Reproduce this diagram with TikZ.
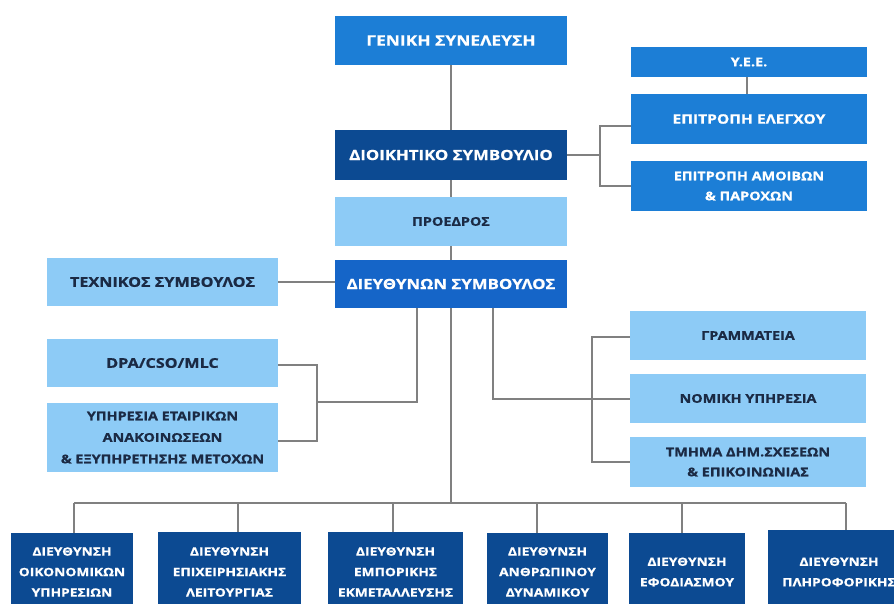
\documentclass[tikz,border=0pt]{standalone}
\usepackage{fontspec}
\setmainfont{Open Sans}[BoldFont={Open Sans Bold}]
\newfontfamily\wfont{Open Sans Bold}[FakeStretch=1.2, FakeBold=0.8]
\definecolor{midblue}{HTML}{1C7ED6}
\definecolor{dirblue}{HTML}{1565C8}
\definecolor{navy}{HTML}{0C4A92}
\definecolor{lightblue}{HTML}{8DCBF6}
\definecolor{darktxt}{HTML}{1B2A44}
\definecolor{linegray}{HTML}{808080}
\tikzset{
  box/.style={rectangle, inner sep=0pt, align=center},
  hugetxt/.style={font=\wfont\fontsize{14.5}{18}\selectfont},
  bigtxt/.style={font=\wfont\fontsize{14}{18}\selectfont},
  advtxt/.style={font=\wfont\fontsize{13.5}{18}\selectfont},
  smalltxt/.style={font=\wfont\fontsize{12}{21}\selectfont},
  bottxt/.style={font=\wfont\fontsize{11.5}{20.5}\selectfont},
  midbox/.style={box, fill=midblue, text=white},
  navybox/.style={box, fill=navy, text=white},
  dirbox/.style={box, fill=dirblue, text=white},
  lightbox/.style={box, fill=lightblue, text=darktxt},
  conn/.style={draw=linegray, line width=2pt}
}
\begin{document}
\begin{tikzpicture}[x=1pt,y=-1pt]
\fill[white] (0,0) rectangle (894,604);
\useasboundingbox (0,0) rectangle (894,604);
\clip (0,0) rectangle (894,604);
% central column
\node[midbox, hugetxt, minimum width=232, minimum height=49] (gen) at (451,40.5) {ΓΕΝΙΚΗ ΣΥΝΕΛΕΥΣΗ};
\node[navybox, bigtxt, minimum width=232, minimum height=50] (dioik) at (451,155) {ΔΙΟΙΚΗΤΙΚΟ ΣΥΜΒΟΥΛΙΟ};
\node[lightbox, smalltxt, minimum width=232, minimum height=49] (proe) at (451,221.5) {ΠΡΟΕΔΡΟΣ};
\node[dirbox, bigtxt, minimum width=232, minimum height=48] (dieu) at (451,284) {ΔΙΕΥΘΥΝΩΝ ΣΥΜΒΟΥΛΟΣ};
% right committees
\node[midbox, smalltxt, minimum width=236, minimum height=30] (yee) at (749,62) {Υ.Ε.Ε.};
\node[midbox, font=\wfont\fontsize{13}{18}\selectfont, minimum width=236, minimum height=50] (elen) at (749,119) {ΕΠΙΤΡΟΠΗ ΕΛΕΓΧΟΥ};
\node[midbox, font=\wfont\fontsize{12}{20}\selectfont, minimum width=236, minimum height=50] (amoib) at (749,186) {ΕΠΙΤΡΟΠΗ ΑΜΟΙΒΩΝ\\\& ΠΑΡΟΧΩΝ};
% left advisers
\node[lightbox, advtxt, minimum width=231, minimum height=48] (tech) at (162.5,282) {ΤΕΧΝΙΚΟΣ ΣΥΜΒΟΥΛΟΣ};
\node[lightbox, advtxt, minimum width=231, minimum height=48] (dpa) at (162.5,363) {DPA/CSO/MLC};
\node[lightbox, font=\wfont\fontsize{12}{21.5}\selectfont, minimum width=231, minimum height=69] (yphr) at (162.5,437.5) {ΥΠΗΡΕΣΙΑ ΕΤΑΙΡΙΚΩΝ\\ΑΝΑΚΟΙΝΩΣΕΩΝ\\\& ΕΞΥΠΗΡΕΤΗΣΗΣ ΜΕΤΟΧΩΝ};
% right services
\node[lightbox, smalltxt, minimum width=236, minimum height=49] (gram) at (748,335.5) {ΓΡΑΜΜΑΤΕΙΑ};
\node[lightbox, smalltxt, minimum width=236, minimum height=49] (nom) at (748,398.5) {ΝΟΜΙΚΗ ΥΠΗΡΕΣΙΑ};
\node[lightbox, font=\wfont\fontsize{12}{20}\selectfont, minimum width=236, minimum height=50] (tmima) at (748,462) {ΤΜΗΜΑ ΔΗΜ.ΣΧΕΣΕΩΝ\\\& ΕΠΙΚΟΙΝΩΝΙΑΣ};
% bottom directorates
\node[navybox, bottxt, minimum width=122, minimum height=78] (b1) at (72,572) {ΔΙΕΥΘΥΝΣΗ\\ΟΙΚΟΝΟΜΙΚΩΝ\\ΥΠΗΡΕΣΙΩΝ};
\node[navybox, bottxt, minimum width=143, minimum height=80] (b2) at (229.5,572) {ΔΙΕΥΘΥΝΣΗ\\ΕΠΙΧΕΙΡΗΣΙΑΚΗΣ\\ΛΕΙΤΟΥΡΓΙΑΣ};
\node[navybox, bottxt, minimum width=135, minimum height=80] (b3) at (395.5,572) {ΔΙΕΥΘΥΝΣΗ\\ΕΜΠΟΡΙΚΗΣ\\ΕΚΜΕΤΑΛΛΕΥΣΗΣ};
\node[navybox, bottxt, minimum width=121, minimum height=78] (b4) at (547.5,572) {ΔΙΕΥΘΥΝΣΗ\\ΑΝΘΡΩΠΙΝΟΥ\\ΔΥΝΑΜΙΚΟΥ};
\node[navybox, bottxt, minimum width=116, minimum height=78] (b5) at (687,572) {ΔΙΕΥΘΥΝΣΗ\\ΕΦΟΔΙΑΣΜΟΥ};
\node[navybox, bottxt, minimum width=142, minimum height=84] (b6) at (839,572) {ΔΙΕΥΘΥΝΣΗ\\ΠΛΗΡΟΦΟΡΙΚΗΣ};
% connectors: central column
\draw[conn] (gen.south) -- (dioik.north);
\draw[conn] (dioik.south) -- (proe.north);
\draw[conn] (proe.south) -- (dieu.north);
% connectors: committees
\coordinate (rj) at (600,155);
\draw[conn] (dioik.east) -- (rj);
\draw[conn] ([yshift=-7pt]elen.west) -| (rj) |- (amoib.west);
\draw[conn] ([xshift=-2pt]yee.south) -- ([xshift=-2pt]elen.north);
% connectors: left
\draw[conn] (tech.east) -- (tech.east -| dieu.west);
\coordinate (lj) at (317,402);
\draw[conn] ([yshift=-2pt]dpa.east) -| (lj) |- ([yshift=-3.5pt]yphr.east);
\draw[conn] (lj) -| ([xshift=-34pt]dieu.south);
% connectors: right services
\coordinate (rr) at (592,398.5);
\draw[conn] ([xshift=42pt]dieu.south) |- (nom.west);
\draw[conn] ([yshift=-1.5pt]gram.west) -| (rr) |- (tmima.west);
% bottom bus
\coordinate (bus1) at (74,503);
\coordinate (bus2) at (238,503);
\coordinate (bus3) at (393,503);
\coordinate (bus4) at (537,503);
\coordinate (bus5) at (682,503);
\coordinate (bus6) at (846,503);
\draw[conn] (dieu.south) -- (dieu.south |- bus1);
\draw[conn] (bus1) -- (bus6);
\draw[conn] (bus1) -- (bus1 |- b1.north);
\draw[conn] (bus2) -- (bus2 |- b2.north);
\draw[conn] (bus3) -- (bus3 |- b3.north);
\draw[conn] (bus4) -- (bus4 |- b4.north);
\draw[conn] (bus5) -- (bus5 |- b5.north);
\draw[conn] (bus6) -- (bus6 |- b6.north);
\end{tikzpicture}
\end{document}
